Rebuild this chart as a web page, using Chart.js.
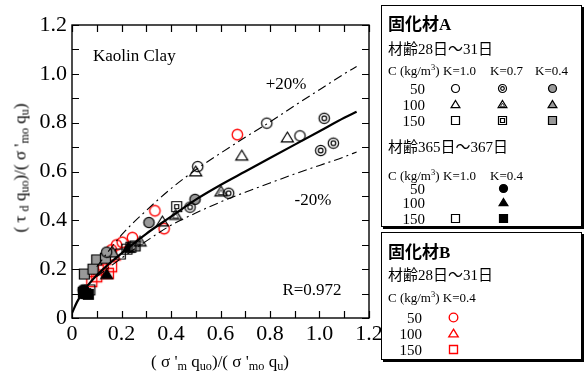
<!DOCTYPE html>
<html><head><meta charset="utf-8">
<script src="https://cdn.jsdelivr.net/npm/chart.js@4.4.1/dist/chart.umd.min.js"></script>
<style>
html,body{margin:0;padding:0;background:#fff;}
#wrap{position:relative;width:586px;height:372px;overflow:hidden;font-family:"Liberation Serif","Noto Sans CJK JP",serif;color:#000;}
#c{position:absolute;left:0;top:0;}
.t{position:absolute;white-space:nowrap;line-height:1;}
.box{position:absolute;border:1px solid #000;box-shadow:2px 2px 0 #000;background:#fff;}
.mk{position:absolute;}
sub{font-size:72%;vertical-align:-0.28em;line-height:0;}
sup{font-size:65%;vertical-align:0.5em;line-height:0;}
</style></head>
<body><div id="wrap"><canvas id="c" width="586" height="372"></canvas></div>
<script>
// ---------------- data ----------------
const tickLabels = ['0','0.2','0.4','0.6','0.8','1.0','1.2'];

// 固化材A, 材齢28日～31日
const a28_k10_c50  = [[0.787,0.798],[0.921,0.746],[0.508,0.620]];
const a28_k07_c50  = [[1.019,0.818],[1.056,0.716],[1.005,0.686],[0.633,0.511],[0.477,0.454]];
const a28_k04_c50  = [[0.497,0.486],[0.311,0.391],[0.140,0.270]];
const a28_k10_c100 = [[0.870,0.739],[0.686,0.665],[0.500,0.600],[0.365,0.395]];
const a28_k07_c100 = [[0.602,0.518],[0.419,0.422],[0.275,0.313]];
const a28_k04_c100 = [[0.165,0.268]];
const a28_k10_c150 = [[0.238,0.290],[0.195,0.262]];
const a28_k07_c150 = [[0.423,0.456],[0.222,0.282]];
const a28_k04_c150 = [[0.050,0.180],[0.100,0.238],[0.255,0.295],[0.085,0.200],[0.135,0.245]];
// 固化材A, 材齢365日～367日
const a365_k04_c50  = [[0.045,0.115]];
const a365_k04_c100 = [[0.228,0.288],[0.140,0.179]];
const a365_k10_c150 = [[0.072,0.115]];
const a365_k04_c150 = [[0.046,0.105],[0.066,0.097],[0.055,0.100]];
// 固化材B, 材齢28日～31日
const b_k04_c50  = [[0.668,0.751],[0.335,0.439],[0.372,0.366],[0.244,0.329],[0.203,0.310],[0.180,0.299],[0.160,0.279]];
const b_k04_c100 = [[0.133,0.238],[0.170,0.255]];
const b_k04_c150 = [[0.127,0.217],[0.106,0.197],[0.160,0.210],[0.147,0.183],[0.100,0.169],[0.080,0.149]];

// regression curve and ±20% bounds
const fitX = [0, 0.02, 0.05, 0.1, 0.15, 0.2, 0.3, 0.4, 0.5, 0.6, 0.7, 0.8, 0.9, 1.0, 1.1, 1.15];
const fitY = [0.02, 0.065, 0.115, 0.175, 0.222, 0.265, 0.345, 0.415, 0.485, 0.545, 0.600, 0.655, 0.710, 0.765, 0.820, 0.845];
const upX  = [0.1, 0.2, 0.3, 0.4, 0.5, 0.6, 0.7, 0.8, 0.9, 1.0, 1.1, 1.15];
const upY  = [0.21, 0.34, 0.44, 0.53, 0.607, 0.675, 0.740, 0.803, 0.870, 0.935, 1.000, 1.030];
const loX  = [0.1, 0.2, 0.3, 0.4, 0.5, 0.6, 0.7, 0.8, 0.9, 1.0, 1.1, 1.15];
const loY  = [0.17, 0.245, 0.315, 0.380, 0.430, 0.475, 0.515, 0.553, 0.590, 0.625, 0.660, 0.680];

// ---------------- markers ----------------
const GRAY = '#999999', RED = '#ff0000';
function makeMarker(kind, r, color){
  const s = Math.ceil(r*2+5) | 1;
  const c = document.createElement('canvas'); c.width = s; c.height = s;
  const g = c.getContext('2d'); const m = s/2;
  const col = color || '#000';
  g.lineWidth = col===RED ? 1.35 : 1.2; g.strokeStyle = col;
  const shape = kind[1];
  const mode = kind[0]; // o open, d double, g gray, b black
  const circ = (rr)=>{g.beginPath(); g.arc(m,m,rr,0,Math.PI*2);};
  const tri = (rr)=>{g.beginPath(); g.moveTo(m, m-rr); g.lineTo(m+rr*1.1, m+rr*0.8); g.lineTo(m-rr*1.1, m+rr*0.8); g.closePath();};
  const sq = (rr)=>{g.beginPath(); const h=Math.round(rr); g.rect(m-h, m-h, 2*h, 2*h);};
  const f = shape==='C'?circ:shape==='T'?tri:sq;
  f(r);
  if(mode==='g'){g.fillStyle=GRAY; g.fill();}
  if(mode==='b'){g.fillStyle='#000'; g.fill();}
  g.stroke();
  if(mode==='d'){
    if(shape==='C'){ f(r*0.45); g.stroke(); }
    else if(shape==='S'){ f(r*0.45); g.stroke(); }
    else { g.lineWidth = 0.8; g.beginPath(); g.moveTo(m, m-r*0.35); g.lineTo(m+r*0.55, m+r*0.55); g.lineTo(m-r*0.55, m+r*0.55); g.closePath(); g.stroke(); }
  }
  return c;
}

// ---------------- chart ----------------
const pts = a => a.map(p=>({x:p[0], y:p[1]}));
const line = (xs, ys) => xs.map((x,i)=>({x:x, y:ys[i]}));
const R = 5.2;
const series = [
  [a28_k10_c50,'oC','#000'],[a28_k07_c50,'dC','#000'],[a28_k04_c50,'gC','#000'],
  [a28_k10_c100,'oT','#000'],[a28_k07_c100,'dT','#000'],[a28_k04_c100,'gT','#000'],
  [a28_k10_c150,'oS','#000'],[a28_k07_c150,'dS','#000'],[a28_k04_c150,'gS','#000'],
  [a365_k04_c50,'bC','#000'],[a365_k04_c100,'bT','#000'],[a365_k10_c150,'oS','#000'],[a365_k04_c150,'bS','#000'],
  [b_k04_c50,'oC',RED],[b_k04_c100,'oT',RED],[b_k04_c150,'oS',RED]
];
const datasets = [
  {type:'line', data:line(fitX,fitY), borderColor:'#000', borderWidth:2.2, pointRadius:0, cubicInterpolationMode:'monotone', order:0},
  {type:'line', data:line(upX,upY), borderColor:'#000', borderWidth:1.1, borderDash:[9,4,2,4], pointRadius:0, cubicInterpolationMode:'monotone', order:0},
  {type:'line', data:line(loX,loY), borderColor:'#000', borderWidth:1.1, borderDash:[9,4,2,4], pointRadius:0, cubicInterpolationMode:'monotone', order:0}
];
series.forEach(([d,k,col])=>{
  datasets.push({type:'scatter', data:pts(d), pointStyle:makeMarker(k, k[1]==='T'?R*1.05:R, col), pointRadius:R, order:1});
});

const frame = {
  id:'frame',
  afterDatasetsDraw(chart){
    const {ctx, chartArea:a, scales:{x,y}} = chart;
    ctx.save(); ctx.strokeStyle='#000'; ctx.lineWidth=1.4;
    ctx.strokeRect(a.left, a.top, a.right-a.left, a.bottom-a.top);
    ctx.lineWidth=1.2; ctx.beginPath();
    const L=7;
    x.ticks.forEach(t=>{const p=Math.round(x.getPixelForValue(t.value))+0.5;
      ctx.moveTo(p,a.bottom); ctx.lineTo(p,a.bottom-L); ctx.moveTo(p,a.top); ctx.lineTo(p,a.top+L);});
    y.ticks.forEach(t=>{const p=Math.round(y.getPixelForValue(t.value))+0.5;
      ctx.moveTo(a.left,p); ctx.lineTo(a.left+L,p); ctx.moveTo(a.right,p); ctx.lineTo(a.right-L,p);});
    ctx.stroke(); ctx.restore();
  }
};
const tickCb = v => { const k = Math.round(v*10); return k%2===0 ? tickLabels[k/2] : ''; };
const tickFont = {family:'"Liberation Serif", serif', size:22};
new Chart(document.getElementById('c'), {
  type:'scatter',
  data:{datasets},
  options:{
    responsive:false, animation:false, devicePixelRatio:1,
    layout:{padding:{top:25, right:217, left:0, bottom:0}},
    plugins:{legend:{display:false}, tooltip:{enabled:false}},
    scales:{
      x:{type:'linear', min:0, max:1.2, grid:{display:false, drawTicks:false}, border:{display:false},
         ticks:{stepSize:0.1, autoSkip:false, maxRotation:0, color:'#000', font:tickFont, padding:3, callback:tickCb},
         afterFit(s){ s.height = 54; }},
      y:{type:'linear', min:0, max:1.2, grid:{display:false, drawTicks:false}, border:{display:false},
         ticks:{stepSize:0.1, autoSkip:false, color:'#000', font:tickFont, padding:5, callback:tickCb},
         afterFit(s){ s.width = 72; }}
    }
  },
  plugins:[frame]
});

// ---------------- texts & legend (HTML) ----------------
const wrap = document.getElementById('wrap');
function txt(html, x, y, size, opts){
  opts = opts || {};
  const d = document.createElement('div'); d.className='t'; d.innerHTML = html;
  d.style.left = x+'px'; d.style.top = y+'px'; d.style.fontSize = size+'px';
  if(opts.bold) d.style.fontWeight='bold';
  let tr = 'translateY(-50%)';
  if(opts.align==='right') tr = 'translate(-100%,-50%)';
  if(opts.align==='center') tr = 'translate(-50%,-50%)';
  if(opts.rot) tr = 'translate(-50%,-50%) rotate(-90deg)';
  d.style.transform = tr; wrap.appendChild(d); return d;
}
function box(l,t,w,h){ const d=document.createElement('div'); d.className='box';
  d.style.left=l+'px'; d.style.top=t+'px'; d.style.width=w+'px'; d.style.height=h+'px'; wrap.appendChild(d); }
function mk(kind, r, col, x, y){ const c = makeMarker(kind, r, col); c.className='mk';
  c.style.left=Math.round(x - c.width/2)+'px'; c.style.top=Math.round(y - c.height/2)+'px'; wrap.appendChild(c); }

// plot annotations
txt('Kaolin Clay', 93, 55, 17);
txt('+20%', 286, 83, 17, {align:'center'});
txt('-20%', 313, 199, 17, {align:'center'});
txt('R=0.972', 312, 289, 17, {align:'center'});
// axis titles
txt('( τ <sub>d</sub> q<sub>uo</sub>)/( σ \'<sub>mo</sub> q<sub>u</sub>)', 20, 168, 17, {rot:true});
txt('( σ \'<sub>m</sub> q<sub>uo</sub>)/( σ \'<sub>mo</sub> q<sub>u</sub>)', 220, 361, 17, {align:'center'});

// legend box A
box(381, 5, 199, 220);
txt('固化材A', 388, 24, 17, {bold:true});
txt('材齢28日～31日', 388, 49, 15);
txt('C (kg/m<sup>3</sup>)', 388, 70, 13);
txt('K=1.0', 443, 70, 13); txt('K=0.7', 490, 70, 13); txt('K=0.4', 535, 70, 13);
txt('50', 425, 89, 15, {align:'right'}); txt('100', 425, 105, 15, {align:'right'}); txt('150', 425, 121, 15, {align:'right'});
const LR = 4;
mk('oC',LR,'#000',455,88); mk('dC',LR,'#000',502,88); mk('gC',LR,'#000',552,88);
mk('oT',LR,'#000',455,104); mk('dT',LR,'#000',502,104); mk('gT',LR,'#000',552,104);
mk('oS',LR,'#000',455,120); mk('dS',LR,'#000',502,120); mk('gS',LR,'#000',552,120);
txt('材齢365日～367日', 388, 147, 15);
txt('C (kg/m<sup>3</sup>)', 388, 175, 13);
txt('K=1.0', 443, 175, 13); txt('K=0.4', 490, 175, 13);
txt('50', 425, 189, 15, {align:'right'}); txt('100', 425, 203, 15, {align:'right'}); txt('150', 425, 219, 15, {align:'right'});
mk('bC',LR,'#000',503,188); mk('bT',LR,'#000',503,202); mk('oS',LR,'#000',455,218); mk('bS',LR,'#000',503,218);

// legend box B
box(381, 232, 199, 126);
txt('固化材B', 388, 252, 17, {bold:true});
txt('材齢28日～31日', 388, 275, 15);
txt('C (kg/m<sup>3</sup>) K=0.4', 388, 297, 13);
txt('50', 422, 318, 15, {align:'right'}); txt('100', 422, 334, 15, {align:'right'}); txt('150', 422, 350, 15, {align:'right'});
mk('oC',4.3,RED,453,317); mk('oT',4.3,RED,453,333); mk('oS',4.3,RED,453,349);
</script>
</body></html>
